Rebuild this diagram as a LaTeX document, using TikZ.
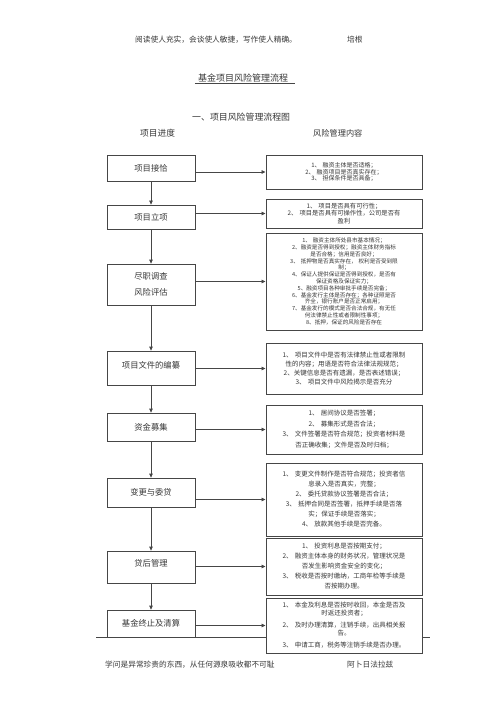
\documentclass[tikz,border=0pt]{standalone}
\usepackage{fontspec}
\setmainfont{Noto Sans CJK SC}
\usepackage{tikz}
\usetikzlibrary{arrows.meta, positioning}
\definecolor{linegray}{RGB}{70,70,70}
\definecolor{inkgray}{RGB}{55,55,55}

\tikzset{
  plain/.style={inner sep=0pt, text=inkgray, anchor=west},
  stage/.style={draw=linegray, line width=0.8pt, fill=white, minimum width=88pt, inner sep=2pt,
    text=inkgray, align=center, font=\fontsize{8.3}{10}\selectfont},
  check/.style={draw=linegray, line width=0.9pt, fill=white, text width=152pt, inner xsep=2pt,
    inner ysep=2pt, align=center, text=inkgray},
  flow/.style={draw=linegray, line width=0.8pt, ->},
}

\begin{document}
\begin{tikzpicture}[x=1pt, y=-1pt, >={Triangle[length=4pt, width=3.6pt]}]
  \useasboundingbox (0,0) rectangle (500,708);
  % header, title and footer
  \node[plain, font=\fontsize{7.7}{9}\selectfont] (motto) at (135,40) {阅读使人充实，会谈使人敏捷，写作使人精确。};
  \node[plain, font=\fontsize{7.7}{9}\selectfont] (author) at (347,40) {培根};
  \node[inner sep=1pt, text=inkgray, font=\fontsize{9}{11}\selectfont] (title) at (243,78) {基金项目风险管理流程};
  \draw[linegray, line width=0.5pt] ([xshift=-2pt]title.south west) -- ([xshift=6pt]title.south east);
  \node[plain, font=\fontsize{8.9}{11}\selectfont] (sub) at (192,117) {一、项目风险管理流程图};
  \node[plain, font=\fontsize{8.7}{10}\selectfont] (lefthead) at (140,133) {项目进度};
  \node[plain, font=\fontsize{8.2}{10}\selectfont] (righthead) at (313,133) {风险管理内容};
  \node[plain, font=\fontsize{7.7}{9}\selectfont] (saying) at (105,665) {学问是异常珍贵的东西，从任何源泉吸收都不可耻};
  \node[plain, font=\fontsize{7.7}{9}\selectfont] (sayer) at (347,665) {阿卜日法拉兹};
  \draw[linegray, line width=0.6pt] (96,637) -- (430,637);

  % project stages
  \node[stage, minimum height=26pt] (s1) at (151,168) {项目接恰};
  \node[stage, minimum height=24pt] (s2) at (151,217) {项目立项};
  \node[stage, minimum height=41pt] (s3) at (151,284.5) {尽职调查\\[6pt]风险评估};
  \node[stage, minimum height=34pt] (s4) at (151,368) {\raisebox{6pt}{项目文件的编纂}};
  \node[stage, minimum height=28pt] (s5) at (151,427) {资金募集};
  \node[stage, minimum height=29pt] (s6) at (151,492.5) {变更与委贷};
  \node[stage, minimum height=32pt] (s7) at (151,567) {\raisebox{8pt}{贷后管理}};
  \node[stage, minimum height=27pt] (s8) at (151,623.5) {基金终止及清算};

  % risk checks
  \node[check, minimum height=34pt, font=\fontsize{6}{6.5}\selectfont] (c1) at (344,172) {%
    1、 融资主体是否适格；\\2、 融资项目是否真实存在；\\3、 担保条件是否具备；};
  \node[check, minimum height=29pt, font=\fontsize{6.3}{7.5}\selectfont] (c2) at (344,213.5) {%
    1、 项目是否具有可行性；\\2、 项目是否具有可操作性，公司是否有\\盈利\\[3pt]};
  \node[check, minimum height=97pt, font=\fontsize{5.6}{6.8}\selectfont] (c3) at (344,281.5) {%
    1、 融资主体所处县市基本情况；\\%
    2、融资是否得到授权；融资主体财务指标\\是否合格；信用是否良好；\\%
    3、 抵押物是否真实存在， 权利是否受到限\\制；\\%
    4、保证人提供保证是否得到授权，是否有\\保证资格及保证实力；\\%
    5、融资项目各种审批手续是否完备；\\%
    6、基金发行主体是否存在；各种证照是否\\齐全，银行账户是否正常启用；\\%
    7、基金发行的模式是否合法合规，有无任\\何法律禁止性或者限制性事项；\\%
    8、抵押，保证的风险是否存在};
  \node[check, minimum height=51pt, font=\fontsize{6.5}{9.3}\selectfont] (c4) at (344,368.5) {%
    1、 项目文件中是否有法律禁止性或者限制\\性的内容；用语是否符合法律法规规范；\\%
    2、关键信息是否有遗漏，是否表述错误；\\3、 项目文件中风险揭示是否充分};
  \node[check, minimum height=49pt, font=\fontsize{6.5}{10.5}\selectfont] (c5) at (344,429.5) {%
    1、 居间协议是否签署；\\2、 募集形式是否合法；\\%
    3、 文件签署是否符合规范；投资者材料是\\否正确收集；文件是否及时归档；};
  \node[check, minimum height=73pt, font=\fontsize{6.5}{10}\selectfont] (c6) at (344,499.5) {%
    1、 变更文件制作是否符合规范；投资者信\\息录入是否真实，完整；\\%
    2、 委托贷款协议签署是否合法；\\%
    3、 抵押合同是否签署，抵押手续是否落\\实；保证手续是否落实；\\%
    4、 放款其他手续是否完备。\\[4pt]};
  \node[check, minimum height=57pt, font=\fontsize{6.5}{10}\selectfont] (c7) at (344,566.5) {%
    1、 投资利息是否按期支付；\\%
    2、 融资主体本身的财务状况，管理状况是\\否发生影响资金安全的变化；\\%
    3、 税收是否按时缴纳，工商年检等手续是\\否按期办理。};
  \node[check, minimum height=55pt, font=\fontsize{6.5}{7.5}\selectfont] (c8) at (344,625.5) {%
    1、 本金及利息是否按时收回，本金是否及\\时返还投资者；\\[5pt]%
    2、 及时办理清算，注销手续，出具相关报\\告。\\[5pt]%
    3、 申请工商，税务等注销手续是否办理。};

  % down the stages
  \draw[flow] (s1) -- (s2);
  \draw[flow] (s2) -- (s3);
  \draw[flow] (s3) -- (s4);
  \draw[flow] (s4) -- (s5);
  \draw[flow] (s5) -- (s6);
  \draw[flow] (s6) -- (s7);
  \draw[flow] (s7) -- (s8);

  % stage to its checks
  \draw[flow] (s1.east |- c1.west) -- (c1.west);
  \draw[flow] (s2.east |- c2.west) -- (c2.west);
  \draw[flow] (s3.east |- c3.west) -- (c3.west);
  \draw[flow] (s4.east |- c4.west) -- (c4.west);
  \draw[flow] (s5.east |- c5.west) -- (c5.west);
  \draw[flow] (s6.east |- c6.west) -- (c6.west);
  \draw[flow] (s7.east |- c7.west) -- (c7.west);
  \draw[flow] (s8.east |- c8.west) -- (c8.west);
\end{tikzpicture}
\end{document}
